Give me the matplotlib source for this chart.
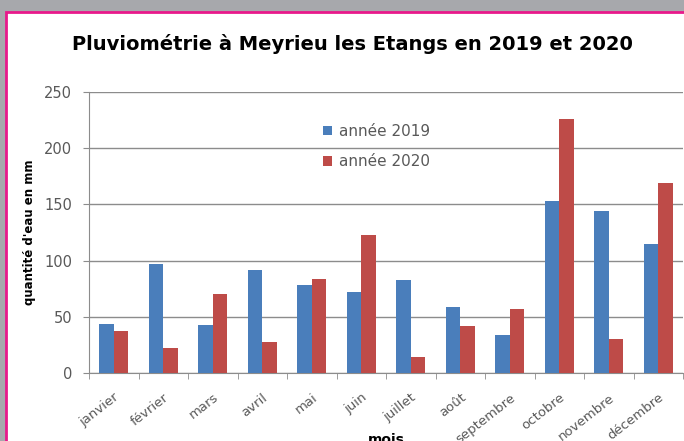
import numpy as np
import matplotlib.pyplot as plt
from matplotlib.patches import Rectangle

mois = ["janvier", "février", "mars", "avril", "mai", "juin", "juillet",
        "août", "septembre", "octobre", "novembre", "décembre"]
pluie_2019 = [44, 97, 43, 92, 78, 72, 83, 59, 34, 153, 144, 115]
pluie_2020 = [37, 22, 70, 28, 84, 123, 14, 42, 57, 226, 30, 169]

bleu = "#4a7ebb"
rouge = "#be4b48"
gris = "#595959"

plt.rcParams['font.family'] = ['DejaVu Sans']

fig = plt.figure(figsize=(6.84, 4.41), dpi=100)
fig.patch.set_facecolor("white")

# fond gris + cadre magenta
fig.patches.append(Rectangle((0, 0), 1, 1, transform=fig.transFigure,
                             facecolor="#a7a8ac", edgecolor="none", zorder=-3))
fig.patches.append(Rectangle((6/684, -0.05), 1.1, (441-12)/441 + 0.05,
                             transform=fig.transFigure, facecolor="white",
                             edgecolor="#e8198b", linewidth=2, zorder=-2))

ax = fig.add_axes([89/684, 68/441, 594/684, 281/441])
x = np.arange(len(mois))
w = 0.29
ax.bar(x - w/2, pluie_2019, w, color=bleu, label="année 2019", zorder=3)
ax.bar(x + w/2, pluie_2020, w, color=rouge, label="année 2020", zorder=3)

ax.set_xlim(-0.5, len(mois) - 0.5)
ax.set_ylim(0, 250)
ax.set_yticks(range(0, 251, 50))
ax.yaxis.grid(True, color="#8c8c8c", linewidth=1)
ax.set_facecolor("none")
for s in ["top", "right"]:
    ax.spines[s].set_visible(False)
for s in ["left", "bottom"]:
    ax.spines[s].set_color("#8c8c8c")

ax.set_xticks(x)
ax.set_xticklabels(mois, rotation=38, ha="right", rotation_mode="anchor",
                   fontsize=9.5, color=gris)
ax.tick_params(axis="x", length=0, pad=13)
ax.set_xticks(np.arange(-0.5, len(mois)), minor=True)
ax.tick_params(axis="x", which="minor", length=4, color="#8c8c8c")
ax.tick_params(axis="y", labelsize=10.5, labelcolor=gris, length=4, color="#8c8c8c",
               pad=8)

ax.set_ylabel("quantité d'eau en mm", fontsize=8.5, fontweight="bold", color="black",
              labelpad=6)
ax.yaxis.set_label_coords(-0.09, 0.5)
ax.set_xlabel("mois", fontsize=10, fontweight="bold", labelpad=0)
ax.xaxis.set_label_coords(0.5, -0.215)

ax.legend(loc="upper left", bbox_to_anchor=(0.37, 0.935), frameon=False,
          fontsize=11, labelcolor=gris, handlelength=0.6, handleheight=0.6,
          handletextpad=0.5, labelspacing=1.0)

fig.text(352/684, 1 - 44/441, "Pluviométrie à Meyrieu les Etangs en 2019 et 2020",
         ha="center", va="center", fontsize=14, fontweight="bold")

fig.savefig("out.png", dpi=100)
